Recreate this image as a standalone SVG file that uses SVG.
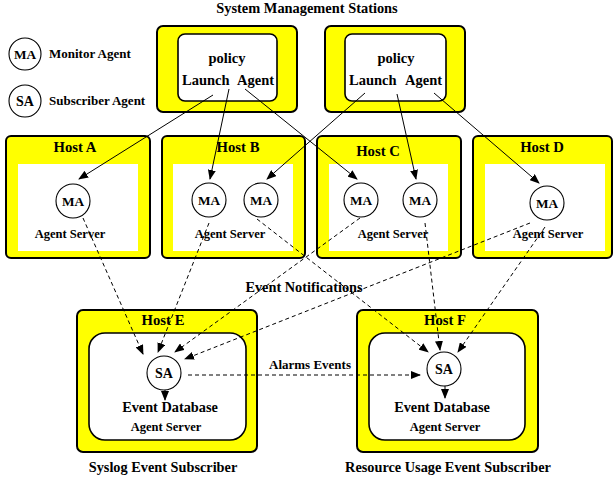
<svg xmlns="http://www.w3.org/2000/svg" width="613" height="480" viewBox="0 0 613 480">
<style>
text{font-family:"Liberation Serif","Times New Roman",serif;font-weight:bold;fill:#000}
.outer{fill:#ffff00;stroke:#000;stroke-width:2}
.inner{fill:#fff;stroke:none}
.innerb{fill:#fff;stroke:#000;stroke-width:1.6}
.circ{fill:#fff;stroke:#000;stroke-width:1.1}
.sol{stroke:#000;stroke-width:1;fill:none;marker-end:url(#ah)}
.dash{stroke:#000;stroke-width:1;fill:none;stroke-dasharray:4,3;marker-end:url(#ah)}
.title{font-size:14.4px}
.host{font-size:14.7px}
.pol{font-size:14.5px}
.lbl{font-size:13px}
.as{font-size:12.5px}
.ma{font-size:13.3px}
.sa{font-size:14px}
.big{font-size:14.3px}
</style>
<defs>
<marker id="ah" markerWidth="10" markerHeight="8" refX="9" refY="4" orient="auto" markerUnits="userSpaceOnUse">
<path d="M0,0 L10,4 L0,8 Z" fill="#000"/>
</marker>
</defs>
<rect width="613" height="480" fill="#fff"/>
<text x="307" y="13" class="title" text-anchor="middle">System Management Stations</text>
<g id="legend">
<circle cx="25" cy="54" r="16" class="circ"/>
<text x="25" y="59" class="ma" text-anchor="middle">MA</text>
<text x="49" y="58" class="lbl">Monitor Agent</text>
<circle cx="25" cy="101" r="16" class="circ"/>
<text x="25" y="106" class="sa" text-anchor="middle">SA</text>
<text x="49" y="105" class="lbl">Subscriber Agent</text>
</g>
<g id="station1">
<rect x="157" y="26" width="140" height="86" rx="6" class="outer"/>
<rect x="178" y="34" width="99" height="67" rx="7" class="innerb"/>
<text x="227" y="63" class="pol" text-anchor="middle">policy</text>
<text x="182" y="85" class="pol">Launch</text>
<text x="237" y="85" class="pol">Agent</text>
</g>
<g id="station2">
<rect x="325" y="26" width="140" height="86" rx="6" class="outer"/>
<rect x="345" y="34" width="101" height="67" rx="7" class="innerb"/>
<text x="396" y="63" class="pol" text-anchor="middle">policy</text>
<text x="349" y="85" class="pol">Launch</text>
<text x="405" y="85" class="pol">Agent</text>
</g>
<g id="hostA">
<rect x="6" y="136" width="144" height="122" rx="5" class="outer"/>
<rect x="18" y="164" width="120" height="87" class="inner"/>
<text x="75" y="152" class="host" text-anchor="middle">Host A</text>
<circle cx="73" cy="201" r="17" class="circ"/>
<text x="73" y="206" class="ma" text-anchor="middle">MA</text>
<text x="70" y="238" class="as" text-anchor="middle">Agent Server</text>
</g>
<g id="hostB">
<rect x="162" y="136" width="143" height="122" rx="5" class="outer"/>
<rect x="173" y="164" width="120" height="87" class="inner"/>
<text x="238" y="152" class="host" text-anchor="middle">Host B</text>
<circle cx="209" cy="200" r="17" class="circ"/>
<text x="209" y="205" class="ma" text-anchor="middle">MA</text>
<circle cx="261" cy="200" r="17" class="circ"/>
<text x="261" y="205" class="ma" text-anchor="middle">MA</text>
<text x="230" y="238" class="as" text-anchor="middle">Agent Server</text>
</g>
<g id="hostC">
<rect x="317" y="136" width="144" height="122" rx="5" class="outer"/>
<rect x="329" y="164" width="119" height="87" class="inner"/>
<text x="378" y="156" class="host" text-anchor="middle">Host C</text>
<circle cx="361" cy="200" r="17" class="circ"/>
<text x="361" y="205" class="ma" text-anchor="middle">MA</text>
<circle cx="420" cy="200" r="17" class="circ"/>
<text x="420" y="205" class="ma" text-anchor="middle">MA</text>
<text x="393" y="238" class="as" text-anchor="middle">Agent Server</text>
</g>
<g id="hostD">
<rect x="473" y="136" width="139" height="122" rx="5" class="outer"/>
<rect x="485" y="164" width="120" height="87" class="inner"/>
<text x="542" y="152" class="host" text-anchor="middle">Host D</text>
<circle cx="547" cy="203" r="17" class="circ"/>
<text x="547" y="208" class="ma" text-anchor="middle">MA</text>
<text x="548" y="238" class="as" text-anchor="middle">Agent Server</text>
</g>
<g id="hostE">
<rect x="77" y="310" width="180" height="142" rx="6" class="outer"/>
<rect x="89" y="333" width="157" height="107" rx="16" class="innerb"/>
<text x="163" y="325" class="host" text-anchor="middle">Host E</text>
<circle cx="164" cy="373" r="17" class="circ"/>
<text x="164" y="378" class="sa" text-anchor="middle">SA</text>
<text x="170" y="412" class="big" text-anchor="middle">Event Database</text>
<text x="166" y="431" class="as" text-anchor="middle">Agent Server</text>
<text x="163" y="472" class="big" text-anchor="middle">Syslog Event Subscriber</text>
</g>
<g id="hostF">
<rect x="357" y="310" width="181" height="142" rx="6" class="outer"/>
<rect x="369" y="333" width="156" height="107" rx="16" class="innerb"/>
<text x="445" y="325" class="host" text-anchor="middle">Host F</text>
<circle cx="444" cy="369" r="17" class="circ"/>
<text x="444" y="374" class="sa" text-anchor="middle">SA</text>
<text x="442" y="412" class="big" text-anchor="middle">Event Database</text>
<text x="445" y="431" class="as" text-anchor="middle">Agent Server</text>
<text x="448" y="472" class="big" text-anchor="middle">Resource Usage Event Subscriber</text>
</g>
<g id="connectors">
<line x1="213" y1="95" x2="79" y2="179" class="sol"/>
<line x1="229" y1="89" x2="210" y2="179" class="sol"/>
<line x1="245" y1="89" x2="357" y2="179" class="sol"/>
<line x1="365" y1="93" x2="267" y2="179" class="sol"/>
<line x1="397" y1="94" x2="416" y2="179" class="sol"/>
<line x1="434" y1="93" x2="539" y2="183" class="sol"/>
<line x1="83" y1="218" x2="143" y2="354" class="dash"/>
<line x1="209" y1="223" x2="158" y2="352" class="dash"/>
<line x1="360" y1="218" x2="175" y2="352" class="dash"/>
<line x1="530" y1="223" x2="185" y2="359" class="dash"/>
<line x1="257" y1="219" x2="428" y2="352" class="dash"/>
<line x1="425" y1="223" x2="440" y2="350" class="dash"/>
<line x1="545" y1="227" x2="458" y2="352" class="dash"/>
<line x1="188" y1="375" x2="420" y2="375" class="dash"/>
<line x1="165" y1="390" x2="165" y2="400" class="sol"/>
<line x1="445" y1="386" x2="445" y2="398" class="sol"/>
<text x="304" y="292" class="big" text-anchor="middle">Event Notifications</text>
<text x="310" y="369" class="lbl" text-anchor="middle">Alarms Events</text>
</g>
</svg>
